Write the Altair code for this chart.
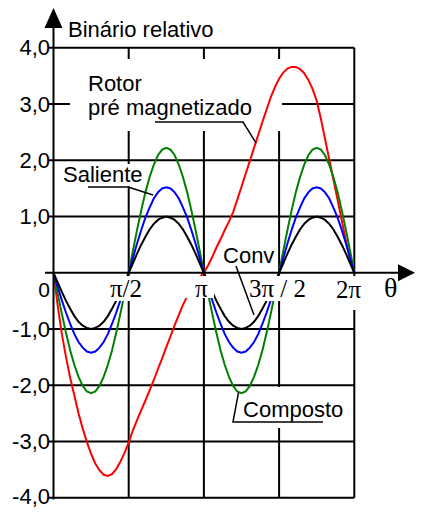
import altair as alt
import pandas as pd

# ---------------- data (theta in degrees, torque relative) ----------------
theta_deg = list(range(0, 361, 5))

rotor_pre_mag = [0, -0.58, -1.09, -1.50, -1.87, -2.18, -2.50, -2.77, -3.01, -3.22,
                 -3.39, -3.51, -3.59, -3.61, -3.58, -3.49, -3.36, -3.20, -3.02, -2.80,
                 -2.62, -2.44, -2.27, -2.09, -1.91, -1.71, -1.52, -1.32, -1.13, -0.93,
                 -0.75, -0.57, -0.42, -0.29, -0.18, -0.08, 0,
                 0.13, 0.28, 0.45, 0.60, 0.76, 0.91, 1.08, 1.30, 1.53, 1.76,
                 1.99, 2.22, 2.45, 2.68, 2.90, 3.12, 3.30, 3.45, 3.56, 3.63,
                 3.66, 3.66, 3.62, 3.55, 3.43, 3.27, 3.06, 2.74, 2.38, 2.02,
                 1.66, 1.30, 0.93, 0.57, 0.24, 0]

composto = [0, -0.37, -0.73, -1.07, -1.38, -1.64, -1.85, -2.01, -2.11, -2.14,
            -2.11, -2.01, -1.85, -1.64, -1.38, -1.07, -0.73, -0.37, 0,
            0.39, 0.76, 1.11, 1.43, 1.70, 1.92, 2.09, 2.19, 2.22,
            2.19, 2.09, 1.92, 1.70, 1.43, 1.11, 0.76, 0.39, 0,
            -0.37, -0.73, -1.07, -1.38, -1.64, -1.85, -2.01, -2.11, -2.14,
            -2.11, -2.01, -1.85, -1.64, -1.38, -1.07, -0.73, -0.37, 0,
            0.39, 0.76, 1.11, 1.43, 1.70, 1.92, 2.09, 2.19, 2.22,
            2.19, 2.09, 1.92, 1.70, 1.43, 1.11, 0.76, 0.39, 0]

saliente = [0, -0.25, -0.49, -0.71, -0.91, -1.09, -1.23, -1.33, -1.40, -1.42,
            -1.40, -1.33, -1.23, -1.09, -0.91, -0.71, -0.49, -0.25, 0,
            0.26, 0.52, 0.76, 0.98, 1.16, 1.32, 1.43, 1.50, 1.52,
            1.50, 1.43, 1.32, 1.16, 0.98, 0.76, 0.52, 0.26, 0,
            -0.25, -0.49, -0.71, -0.91, -1.09, -1.23, -1.33, -1.40, -1.42,
            -1.40, -1.33, -1.23, -1.09, -0.91, -0.71, -0.49, -0.25, 0,
            0.26, 0.52, 0.76, 0.98, 1.16, 1.32, 1.43, 1.50, 1.52,
            1.50, 1.43, 1.32, 1.16, 0.98, 0.76, 0.52, 0.26, 0]

conv = [0, -0.17, -0.34, -0.50, -0.64, -0.77, -0.87, -0.94, -0.98, -1.00,
        -0.98, -0.94, -0.87, -0.77, -0.64, -0.50, -0.34, -0.17, 0,
        0.17, 0.34, 0.50, 0.64, 0.77, 0.87, 0.94, 0.98, 1.00,
        0.98, 0.94, 0.87, 0.77, 0.64, 0.50, 0.34, 0.17, 0,
        -0.17, -0.34, -0.50, -0.64, -0.77, -0.87, -0.94, -0.98, -1.00,
        -0.98, -0.94, -0.87, -0.77, -0.64, -0.50, -0.34, -0.17, 0,
        0.17, 0.34, 0.50, 0.64, 0.77, 0.87, 0.94, 0.98, 1.00,
        0.98, 0.94, 0.87, 0.77, 0.64, 0.50, 0.34, 0.17, 0]

y_ticks = [4, 3, 2, 1, -1, -2, -3, -4]
y_tick_labels = ["4,0", "3,0", "2,0", "1,0", "-1,0", "-2,0", "-3,0", "-4,0"]
y_label_dy = [7.5, 7.5, 7.5, 7.5, 7.5, 7.5, 7.5, 6.0]
x_grid = [90, 180, 270, 360]

# ---------------- scales ----------------
W, H = 407, 503
XS = alt.Scale(domain=[-54.455, 432.65], nice=False, zero=False)
YS = alt.Scale(domain=[-4.2347, 4.7076], nice=False, zero=False)


def xq(f="x"):
    return alt.X(f"{f}:Q", scale=XS, axis=None)


def yq(f="y"):
    return alt.Y(f"{f}:Q", scale=YS, axis=None)


SANS = "Liberation Sans"
SERIF = "Liberation Serif"

layers = []

# grid lines
hgrid = pd.DataFrame({"x": -5.4, "x2": 360, "y": y_ticks})
layers.append(alt.Chart(hgrid).mark_rule(color="black", strokeWidth=2).encode(
    x=xq(), x2="x2:Q", y=yq()))
vgrid = pd.DataFrame({"x": x_grid, "y": -4, "y2": 4})
layers.append(alt.Chart(vgrid).mark_rule(color="black", strokeWidth=2).encode(
    x=xq(), y=yq(), y2="y2:Q"))

# white boxes behind the curve labels
label_boxes = pd.DataFrame({
    "x": [19.7, 9.0, 200.5, 225.9],
    "x2": [273.5, 105.9, 266.3, 354.8],
    "y": [3.80, 1.934, 0.494, -2.03],
    "y2": [2.52, 1.54, 0.103, -2.76],
})
layers.append(alt.Chart(label_boxes).mark_rect(color="white").encode(
    x=xq(), x2="x2:Q", y=yq(), y2="y2:Q"))

# curves
curves = [(rotor_pre_mag, "#ff0000"), (composto, "#008000"),
          (saliente, "#0000ff"), (conv, "#000000")]
for vals, col in curves:
    df = pd.DataFrame({"x": theta_deg, "y": vals})
    layers.append(alt.Chart(df).mark_line(interpolate="linear", color=col,
                                          strokeWidth=2).encode(x=xq(), y=yq()))

# white boxes behind the x tick labels
tick_boxes = pd.DataFrame({
    "x": [64.0, 157.4, 232.8, 333.3],
    "x2": [113.1, 192.1, 308.2, 380.0],
    "y": [-0.057, -0.057, -0.057, -0.057],
    "y2": [-0.501, -0.448, -0.501, -0.661],
})
layers.append(alt.Chart(tick_boxes).mark_rect(color="white").encode(
    x=xq(), x2="x2:Q", y=yq(), y2="y2:Q"))

# axes
yaxis = pd.DataFrame({"x": [0], "y": [-4.03], "y2": [4.40]})
layers.append(alt.Chart(yaxis).mark_rule(color="black", strokeWidth=2).encode(
    x=xq(), y=yq(), y2="y2:Q"))
xaxis = pd.DataFrame({"x": [-10.2], "x2": [415.0], "y": [0]})
layers.append(alt.Chart(xaxis).mark_rule(color="black", strokeWidth=2).encode(
    x=xq(), x2="x2:Q", y=yq()))
arrow_up = pd.DataFrame({"x": [0], "y": [4.53]})
layers.append(alt.Chart(arrow_up).mark_point(
    shape="M0,-1L0.9,1L-0.9,1Z", filled=True, size=400, color="black",
    opacity=1, strokeWidth=0).encode(x=xq(), y=yq()))
arrow_right = pd.DataFrame({"x": [422.47], "y": [0]})
layers.append(alt.Chart(arrow_right).mark_point(
    shape="M1,0L-1,-1L-1,1Z", filled=True, size=289, color="black",
    opacity=1, strokeWidth=0).encode(x=xq(), y=yq()))

# leader lines
leaders = pd.DataFrame({
    "g": ["r", "r", "r", "s", "s", "s", "c", "c", "k", "k", "k"],
    "i": [0, 1, 2, 0, 1, 2, 0, 1, 0, 1, 2],
    "x": [121.5, 226.8, 242.4, 41.3, 89.2, 119.1, 218.4, 239.96, 322.5, 214.8, 221.4],
    "y": [2.68, 2.68, 2.31, 1.525, 1.525, 1.383, 0.121, -0.75, -2.652, -2.652, -2.13],
})
layers.append(alt.Chart(leaders).mark_line(color="black", strokeWidth=1.5).encode(
    x=xq(), y=yq(), detail="g:N", order="i:Q"))

# y tick labels
for yv, lab, dy in zip(y_ticks, y_tick_labels, y_label_dy):
    layers.append(alt.Chart(pd.DataFrame({"x": [-4.19], "y": [yv], "t": [lab]})).mark_text(
        align="right", baseline="alphabetic", dy=dy, font=SANS, fontSize=22,
        color="black").encode(x=xq(), y=yq(), text="t:N"))

# x tick labels
layers.append(alt.Chart(pd.DataFrame({"x": [-11.37], "y": [-0.43], "t": ["0"]})).mark_text(
    align="center", baseline="alphabetic", font=SANS, fontSize=21, color="black").encode(
    x=xq(), y=yq(), text="t:N"))
xlab = pd.DataFrame({"x": [67.6, 169.35, 233.97, 338.1],
                     "y": [-0.43, -0.43, -0.43, -0.45],
                     "t": ["π/2", "π", "3π / 2", "2π"]})
layers.append(alt.Chart(xlab).mark_text(
    align="left", baseline="alphabetic", font=SERIF, fontSize=25, color="black").encode(
    x=xq(), y=yq(), text="t:N"))
layers.append(alt.Chart(pd.DataFrame({"x": [395.6], "y": [-0.43], "t": ["θ"]})).mark_text(
    align="left", baseline="alphabetic", font=SERIF, fontSize=28, color="black").encode(
    x=xq(), y=yq(), text="t:N"))

# curve labels / axis title
texts = pd.DataFrame({
    "x": [17.35, 41.29, 41.29, 11.37, 202.87, 226.8],
    "y": [4.187, 3.237, 2.805, 1.620, 0.169, -2.558],
    "t": ["Binário relativo", "Rotor", "pré magnetizado", "Saliente", "Conv", "Composto"],
})
layers.append(alt.Chart(texts).mark_text(
    align="left", baseline="alphabetic", font=SANS, fontSize=22, color="black").encode(
    x=xq(), y=yq(), text="t:N"))

chart = alt.layer(*layers).properties(
    width=W, height=H, padding=0,
    autosize=alt.AutoSizeParams(type="none"),
).configure_view(stroke=None)

chart.save("out.html", embed_options={"renderer": "svg", "actions": False})
